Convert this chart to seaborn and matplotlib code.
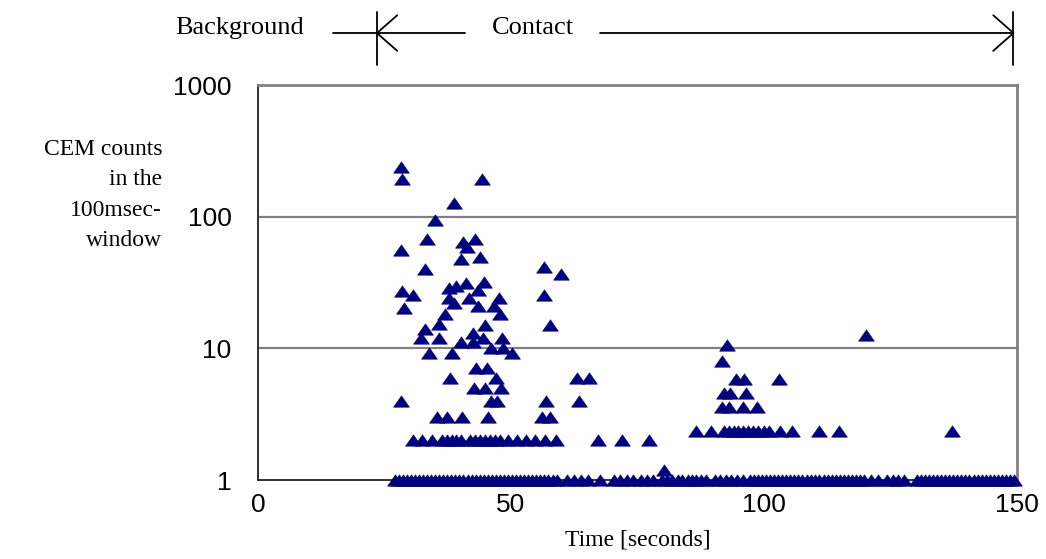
"""
plot.py

CEM counts per 100 msec window vs time, background / contact phases.
Figure saved silently to out.png.
"""

import numpy as np
import pandas as pd
import matplotlib
matplotlib.use("Agg")
import matplotlib.pyplot as plt
from matplotlib.path import Path
import seaborn as sns

# --- data ------------------------------------------------------------------
# scattered bursts (counts >= 3)
burst_time = [28.2, 28.5, 44.3, 38.7, 34.9, 33.3, 40.6, 42.8, 41.2, 28.2,
              40.2, 43.9, 32.9, 44.7, 41.0, 39.1, 37.7, 28.5, 30.7, 43.5,
              37.7, 38.7, 41.6, 47.6, 28.9, 43.5, 46.6, 47.8, 37.0, 35.7,
              44.9, 32.9, 42.4, 32.2, 35.8, 44.5, 48.2, 40.2, 42.4, 46.0,
              48.5, 50.1, 33.7, 38.4, 43.1, 45.2, 37.9, 47.0, 42.7, 44.9,
              48.0, 28.2, 46.0, 47.3, 56.5, 59.9, 56.6, 57.7, 63.1, 65.4,
              56.9, 63.5, 35.3, 37.4, 40.3, 45.4, 56.2, 57.7,
              92.7, 120.1, 91.6, 94.5, 96.1, 102.9, 92.0, 93.3, 96.4,
              91.6, 93.1, 95.8, 98.6]
burst_counts = [237, 192, 195, 128, 95, 68, 64.5, 68, 59, 56,
                48, 49, 40, 32, 31.5, 30, 28.7, 27.4, 25.4, 27.9,
                24, 22, 24.2, 24.2, 20.1, 21, 21, 18.1, 18.2, 15.2,
                15, 14, 13, 12, 12, 12, 12, 11.1, 11.1, 10,
                10.1, 9.2, 9.2, 9.2, 7.05, 7.05, 6.0, 6.0, 5.0, 5.0,
                5.0, 4.0, 4.0, 4.0, 41.7, 37, 25.4, 15.0, 6.0, 6.0,
                4.0, 4.0, 3.0, 3.0, 3.0, 3.0, 3.0, 3.0,
                10.6, 12.6, 8.05, 5.85, 5.85, 5.85, 4.6, 4.6, 4.6,
                3.56, 3.56, 3.56, 3.56]

# row of windows with 2 counts (contact, first part)
two_time = [30.7, 32.5, 34.3, 36.3, 37.4, 38.3, 39.2, 40.1, 41.9, 42.9,
            43.8, 44.9, 45.8, 46.8, 47.8, 49.4, 51.1, 53.0, 54.8, 56.8,
            58.9, 67.2, 71.9, 77.3]
two_counts = [2.0] * len(two_time)

# row slightly above 2 in the later part
late_time = [86.5, 89.5, 92.0, 93.0, 94.0, 94.9, 95.9, 96.9, 97.9, 98.9,
             99.9, 100.9, 103.1, 105.5, 110.9, 114.9, 137.2]
late_counts = [2.37] * len(late_time)

# single odd point
odd_time = [80.3]
odd_counts = [1.2]

# row of windows with 1 count
one_time = [27.0, 27.8, 28.6, 29.4, 30.2, 31.0, 31.8, 32.6, 33.4, 34.2,
            35.0, 35.8, 36.6, 37.4, 38.2, 39.0, 39.8, 40.6, 41.4, 42.2,
            43.0, 43.8, 44.6, 45.4, 46.2, 47.0, 47.8, 48.6, 49.4, 50.2,
            51.0, 51.8, 52.6, 53.4, 54.2, 55.0, 55.8, 56.6, 57.4, 58.2,
            59.0, 61.0, 62.5, 63.8, 65.2, 67.6, 70.3, 71.6, 73.0, 74.1,
            75.6, 76.9, 78.0, 79.8, 80.9, 81.8, 82.9, 83.8, 84.9, 85.8,
            86.6, 87.5, 88.6, 90.3, 91.2, 92.4, 93.5, 94.6, 95.8, 97.2,
            98.0, 98.8, 99.6, 100.4, 101.2, 102.0, 102.8, 103.6, 104.4, 105.2,
            106.0, 106.8, 107.6, 108.4, 109.2, 110.0, 110.9, 111.8, 112.6, 113.4,
            114.2, 115.0, 115.8, 116.6, 117.4, 118.2, 119.0, 119.8, 121.2, 122.6,
            124.4, 125.4, 126.4, 127.6, 130.2, 131.0, 131.8, 132.6, 133.4, 134.2,
            135.0, 135.8, 136.6, 137.4, 138.2, 139.0, 139.8, 140.6, 141.4, 142.2,
            143.0, 143.8, 144.6, 145.4, 146.2, 147.0, 147.8, 148.6, 149.4]
one_counts = [1.0] * len(one_time)

y_ticks = [1, 10, 100, 1000]
x_ticks = [0, 50, 100, 150]
contact_start = 23.5
contact_end = 149.3

NAVY = "#000080"
GRID = "#808080"
SERIF = ["Liberation Serif", "DejaVu Serif"]

# --- build table ------------------------------------------------------------
df = pd.DataFrame({
    "time": burst_time + two_time + late_time + odd_time + one_time,
    "counts": burst_counts + two_counts + late_counts + odd_counts + one_counts,
})

# flat triangle marker (wider than tall)
tri = Path([(-1, -0.72), (1, -0.72), (0, 0.72), (-1, -0.72)],
           [Path.MOVETO, Path.LINETO, Path.LINETO, Path.CLOSEPOLY])

sns.set_theme(style="white")
plt.rcParams["font.family"] = ["Liberation Sans", "DejaVu Sans"]
plt.rcParams["text.color"] = "black"
plt.rcParams["axes.labelcolor"] = "black"
plt.rcParams["xtick.color"] = "black"
plt.rcParams["ytick.color"] = "black"

fig = plt.figure(figsize=(10.46, 5.59), dpi=100)
ax = fig.add_axes([0.2467, 0.1413, 0.7256, 0.7066])

sns.scatterplot(data=df, x="time", y="counts", ax=ax, marker=tri, s=130,
                color=NAVY, edgecolor=NAVY, linewidth=0.4, legend=False,
                clip_on=False, zorder=3)

ax.set_yscale("log")
ax.set_xlim(0, 150)
ax.set_ylim(1, 1000)
ax.set_xticks(x_ticks)
ax.set_yticks(y_ticks)
ax.set_yticklabels([str(v) for v in y_ticks])
ax.set_xticklabels([str(v) for v in x_ticks])
ax.yaxis.set_minor_locator(matplotlib.ticker.NullLocator())
ax.tick_params(axis="y", which="major", direction="out", length=7,
               width=1, color="#303030", labelsize=19, pad=12,
               labelcolor="black")
ax.tick_params(axis="x", which="major", direction="out", length=5,
               width=1, color="#303030", labelsize=19, pad=4,
               labelcolor="black")

for v in [10, 100]:
    ax.axhline(v, color=GRID, lw=1.6, zorder=1)

ax.spines["left"].set_color("#303030")
ax.spines["bottom"].set_color("#303030")
ax.spines["left"].set_linewidth(1.4)
ax.spines["bottom"].set_linewidth(1.4)
ax.spines["top"].set_color(GRID)
ax.spines["right"].set_color(GRID)
ax.spines["top"].set_linewidth(2)
ax.spines["right"].set_linewidth(2)

ax.set_xlabel("Time [seconds]", family=SERIF, fontsize=17,
              color="black", labelpad=9)
ax.set_ylabel("")

fig.text(0.155, 0.651, "CEM counts\nin the\n100msec-\nwindow", ha="right",
         va="center", family=SERIF, fontsize=17, linespacing=1.6,
         color="black")

# --- phase header above the plot --------------------------------------------
tr = ax.get_xaxis_transform()
yl = 1.1316
kw = dict(transform=tr, color="black", lw=1.3, clip_on=False)
ax.plot([14.8, contact_start], [yl, yl], **kw)
ax.plot([contact_start, 40.9], [yl, yl], **kw)
ax.plot([67.6, contact_end], [yl, yl], **kw)
ax.plot([contact_start, contact_start], [1.05, 1.185], **kw)
ax.plot([contact_end, contact_end], [1.05, 1.185], **kw)
ax.plot([contact_start + 4.0, contact_start, contact_start + 4.0],
        [yl + 0.045, yl, yl - 0.045], **kw)
ax.plot([contact_end - 4.0, contact_end, contact_end - 4.0],
        [yl + 0.045, yl, yl - 0.045], **kw)
ax.text(-3.7, 1.145, "Background", transform=tr, ha="center", va="center",
        family=SERIF, fontsize=19, color="black")
ax.text(54.3, 1.145, "Contact", transform=tr, ha="center", va="center",
        family=SERIF, fontsize=19, color="black")

fig.savefig("out.png", dpi=100)
plt.close(fig)
